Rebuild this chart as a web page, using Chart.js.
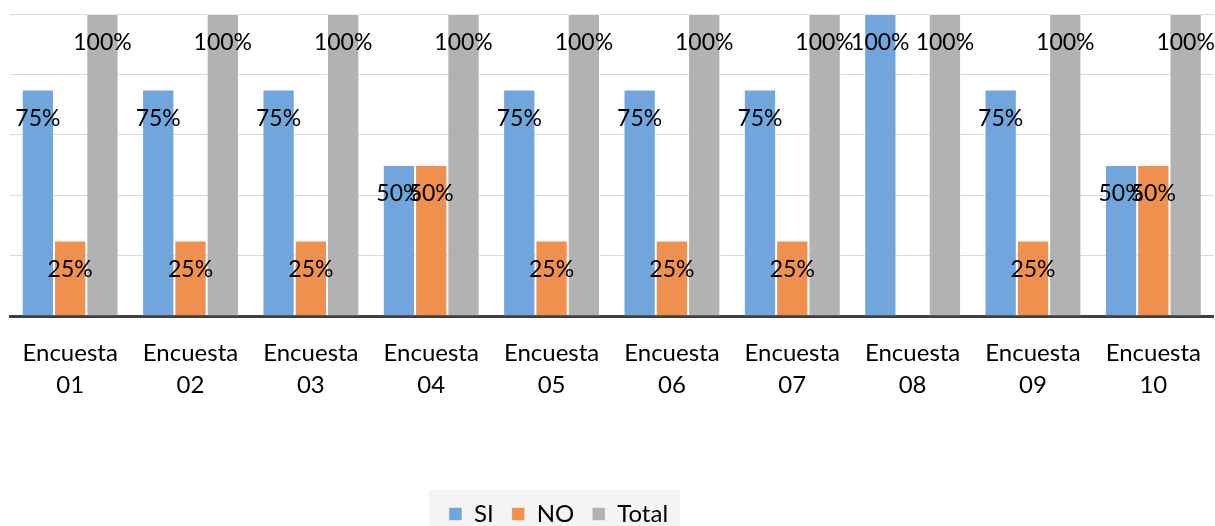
<!DOCTYPE html>
<html>
<head>
<meta charset="utf-8">
<script src="https://cdn.jsdelivr.net/npm/chart.js@4.4.0/dist/chart.umd.min.js"></script>
<style>
  body { margin: 0; background: #fff; }
  #wrap { width: 1215px; height: 526px; }
</style>
</head>
<body>
<div id="wrap"><canvas id="myChart"></canvas></div>
<script>
// categories and values
var categories = [
    ['Encuesta', '01'], ['Encuesta', '02'], ['Encuesta', '03'], ['Encuesta', '04'], ['Encuesta', '05'],
    ['Encuesta', '06'], ['Encuesta', '07'], ['Encuesta', '08'], ['Encuesta', '09'], ['Encuesta', '10']
];
var siValues    = [75, 75, 75, 50, 75, 75, 75, 100, 75, 50];
var noValues    = [25, 25, 25, 50, 25, 25, 25, 0, 25, 50];
var totalValues = [100, 100, 100, 100, 100, 100, 100, 100, 100, 100];

var fontName = 'Lato, "Liberation Sans", sans-serif';

// labels inside the top of each bar, like excel "inside end"
const barLabels = {
    id: 'barLabels',
    afterDatasetsDraw(chart) {
        const ctx = chart.ctx;
        ctx.save();
        ctx.font = '23px ' + fontName;
        ctx.fillStyle = '#000';
        ctx.textAlign = 'center';
        ctx.textBaseline = 'middle';
        chart.data.datasets.forEach((ds, i) => {
            const meta = chart.getDatasetMeta(i);
            meta.data.forEach((bar, j) => {
                const v = ds.data[j];
                if (!v) return;
                ctx.fillText(v + '%', bar.x, bar.y + 29);
            });
        });
        ctx.restore();
    }
};

// legend sits a bit left of centre and lower, with a light box behind it
const legendBox = {
    id: 'legendBox',
    afterLayout(chart) {
        const lg = chart.legend;
        lg.left -= 54; lg.right -= 54;
        lg.top += 10; lg.bottom += 10;
    },
    beforeDraw(chart) {
        const boxes = chart.legend && chart.legend.legendHitBoxes;
        if (!boxes || !boxes.length) return;
        const l = Math.min(...boxes.map(b => b.left)) - 20;
        const r = Math.max(...boxes.map(b => b.left + b.width)) + 12;
        const ctx = chart.ctx;
        ctx.save();
        ctx.fillStyle = '#f4f4f4';
        ctx.fillRect(l, 490, r - l, 36);
        ctx.restore();
    }
};

var ctx = document.getElementById('myChart').getContext('2d');

var myChart = new Chart(ctx, {
    type: 'bar',
    data: {
        labels: categories,
        datasets: [
            { label: 'SI', data: siValues, backgroundColor: '#70a6dc' },
            { label: 'NO', data: noValues, backgroundColor: '#f0904e' },
            { label: 'Total', data: totalValues, backgroundColor: '#b2b2b2' }
        ]
    },
    options: {
        responsive: true,
        maintainAspectRatio: false,
        animation: false,
        datasets: {
            bar: {
                barPercentage: 1,
                categoryPercentage: 0.805,
                borderWidth: 1,
                borderColor: 'rgba(255,255,255,0.45)'
            }
        },
        layout: {
            padding: { top: 14, left: 10, right: 0, bottom: 0 }
        },
        plugins: {
            legend: {
                position: 'bottom',
                labels: {
                    boxWidth: 13,
                    boxHeight: 13,
                    padding: 18,
                    color: '#000',
                    font: { family: fontName, size: 24 }
                }
            },
            tooltip: { enabled: false }
        },
        scales: {
            x: {
                grid: { display: false },
                border: { display: true, color: '#404040', width: 3 },
                ticks: {
                    color: '#000',
                    padding: 14,
                    maxRotation: 0,
                    autoSkip: false,
                    font: { family: fontName, size: 24, lineHeight: 1.3 }
                },
                afterFit(scale) {
                    scale.height = 158;
                }
            },
            y: {
                min: 0,
                max: 100,
                ticks: { display: false, stepSize: 20 },
                grid: { color: '#d9d9d9', lineWidth: 1, drawTicks: false },
                border: { display: false }
            }
        }
    },
    plugins: [barLabels, legendBox]
});
</script>
</body>
</html>
